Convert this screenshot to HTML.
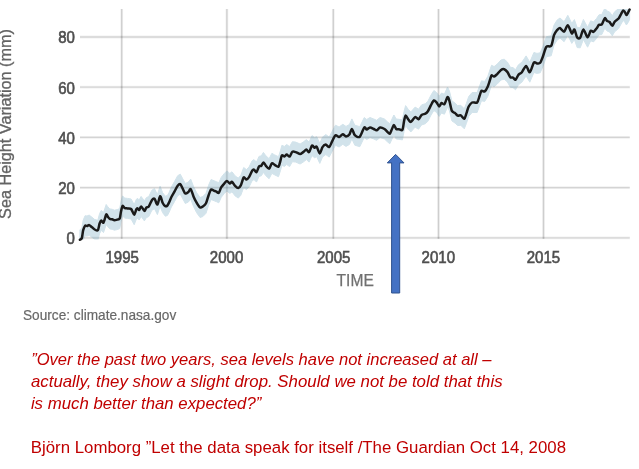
<!DOCTYPE html>
<html lang="en">
<head>
<meta charset="utf-8">
<title>Sea Height Variation</title>
<style>
html,body{margin:0;padding:0;background:#fff;}
body{width:639px;height:469px;overflow:hidden;position:relative;font-family:"Liberation Sans",sans-serif;}
svg{position:absolute;left:0;top:0;display:block;}
text{font-family:"Liberation Sans",sans-serif;}
.tick text{font-size:16px;fill:#4f4f4f;stroke:#4f4f4f;stroke-width:.6px;}
.halo line{stroke:#000;stroke-opacity:.06;stroke-width:2.8;}
.core line{stroke:#000;stroke-opacity:.14;stroke-width:1.3;}
.core line.h{stroke-opacity:.115;}
.quote text{font-size:15.7px;font-style:italic;fill:#c00000;}
.cite text{font-size:16.3px;fill:#c00000;}
</style>
</head>
<body>
<svg width="639" height="469" viewBox="0 0 639 469">
<rect width="639" height="469" fill="#fff"/>
<g class="chart">
<g class="grid halo"><line x1="121.7" y1="9" x2="121.7" y2="238.8"/><line x1="226.9" y1="9" x2="226.9" y2="238.8"/><line x1="333.3" y1="9" x2="333.3" y2="238.8"/><line x1="438.5" y1="9" x2="438.5" y2="238.8"/><line x1="543.5" y1="9" x2="543.5" y2="238.8"/><line class="h" x1="80" y1="237.9" x2="629.8" y2="237.9"/><line class="h" x1="80" y1="187.7" x2="629.8" y2="187.7"/><line class="h" x1="80" y1="137.4" x2="629.8" y2="137.4"/><line class="h" x1="80" y1="87.2" x2="629.8" y2="87.2"/><line class="h" x1="80" y1="37.0" x2="629.8" y2="37.0"/></g>
<g class="grid core"><line x1="121.7" y1="9" x2="121.7" y2="238.8"/><line x1="226.9" y1="9" x2="226.9" y2="238.8"/><line x1="333.3" y1="9" x2="333.3" y2="238.8"/><line x1="438.5" y1="9" x2="438.5" y2="238.8"/><line x1="543.5" y1="9" x2="543.5" y2="238.8"/><line class="h" x1="80" y1="237.9" x2="629.8" y2="237.9"/><line class="h" x1="80" y1="187.7" x2="629.8" y2="187.7"/><line class="h" x1="80" y1="137.4" x2="629.8" y2="137.4"/><line class="h" x1="80" y1="87.2" x2="629.8" y2="87.2"/><line class="h" x1="80" y1="37.0" x2="629.8" y2="37.0"/></g>
<clipPath id="plotclip"><rect x="70" y="9" width="569" height="230.6"/></clipPath>
<path d="M79.9 229.7 L81.8 228.3 L83.2 220.1 L85.1 215.7 L87.0 216.0 L89.2 215.1 L92.0 217.3 L94.7 219.5 L97.8 220.3 L99.6 213.5 L101.3 210.4 L103.5 212.6 L106.2 204.5 L107.9 206.9 L109.8 208.9 L112.2 209.3 L114.4 210.2 L117.2 209.6 L119.7 208.6 L121.0 201.4 L122.6 196.0 L124.8 198.1 L127.6 198.4 L131.1 199.0 L134.2 204.7 L136.3 199.3 L137.7 198.4 L139.2 200.0 L141.1 196.4 L144.4 200.9 L146.3 197.7 L148.8 196.5 L151.9 190.2 L154.5 188.7 L157.4 194.6 L160.1 186.2 L162.6 192.7 L165.3 196.2 L167.4 195.5 L169.0 192.6 L171.4 187.0 L174.6 181.4 L177.7 175.7 L180.3 174.2 L182.8 178.9 L185.3 183.5 L188.4 182.0 L190.7 179.1 L193.5 186.4 L196.6 192.7 L200.1 197.5 L202.9 196.5 L206.0 193.3 L208.6 185.2 L211.1 179.5 L214.2 180.8 L216.5 181.7 L218.8 182.8 L221.3 177.2 L224.4 173.4 L226.9 170.9 L229.8 173.4 L232.0 171.8 L235.1 175.9 L238.3 178.1 L240.8 175.3 L243.7 167.5 L246.4 169.6 L249.0 167.1 L252.1 160.8 L254.0 159.6 L256.5 162.1 L259.0 156.4 L261.3 155.8 L263.4 152.4 L265.9 155.8 L269.1 158.7 L271.9 153.3 L274.7 154.9 L278.5 156.7 L280.4 150.8 L281.9 145.3 L284.4 146.4 L286.7 144.5 L289.6 146.6 L292.4 141.7 L295.7 142.1 L300.1 144.0 L303.2 142.1 L306.4 139.6 L309.1 142.1 L312.0 135.6 L314.5 137.7 L316.7 136.7 L319.8 143.4 L322.5 137.1 L325.8 134.6 L329.2 137.1 L332.1 131.4 L335.5 125.2 L339.1 127.0 L342.8 124.3 L346.0 126.4 L349.4 124.5 L351.9 118.9 L354.8 125.2 L359.8 126.7 L364.2 117.6 L366.7 119.5 L370.0 117.5 L373.8 119.0 L376.6 120.3 L380.1 117.5 L384.5 119.0 L387.4 121.8 L389.8 123.8 L392.0 119.0 L393.9 115.0 L396.2 119.0 L399.0 119.3 L402.4 119.9 L404.0 111.5 L405.6 105.6 L408.4 109.6 L410.9 111.9 L415.1 107.1 L418.5 109.2 L421.6 104.9 L425.4 103.7 L427.9 101.2 L431.0 95.1 L433.9 90.5 L436.7 92.6 L439.2 96.4 L441.5 93.0 L444.4 94.2 L447.5 87.1 L449.4 90.8 L451.9 100.9 L455.1 103.1 L457.6 105.6 L460.8 105.3 L464.3 108.8 L466.4 103.4 L468.7 96.5 L472.1 92.5 L477.1 92.5 L479.6 85.8 L481.5 80.8 L484.7 81.4 L487.8 76.4 L490.3 68.8 L491.6 65.3 L494.1 66.6 L497.2 64.1 L501.0 60.0 L504.2 59.2 L507.3 61.9 L510.4 67.3 L513.0 67.6 L515.5 69.8 L518.2 65.1 L520.0 63.6 L521.9 62.2 L526.1 55.9 L529.8 62.2 L533.9 52.5 L537.0 53.4 L540.2 52.8 L542.9 46.5 L546.4 36.7 L551.2 35.8 L554.0 25.1 L557.1 20.1 L560.0 18.0 L564.1 21.7 L567.8 15.3 L571.8 23.4 L574.4 19.6 L577.2 27.6 L580.2 27.8 L583.4 19.5 L587.6 27.2 L590.7 20.8 L593.5 21.9 L596.5 18.5 L599.0 14.8 L601.8 14.5 L604.8 8.2 L607.1 11.0 L609.6 12.0 L612.3 15.8 L614.6 11.8 L618.6 8.5 L621.1 4.0 L623.1 0.5 L624.8 2.0 L626.4 5.0 L628.1 2.5 L629.6 -0.5 L629.6 19.5 L628.1 22.5 L626.4 25.0 L624.8 22.0 L623.1 20.5 L621.1 24.0 L618.6 28.5 L614.6 31.8 L612.3 35.8 L609.6 32.0 L607.1 31.0 L604.8 28.2 L601.8 34.5 L599.0 34.8 L596.5 38.5 L593.5 41.9 L590.7 40.8 L587.6 47.2 L583.4 39.5 L580.2 47.8 L577.2 47.6 L574.4 39.6 L571.8 43.4 L567.8 35.3 L564.1 41.7 L560.0 38.0 L557.1 40.1 L554.0 45.1 L551.2 55.8 L546.4 56.7 L542.9 66.5 L540.2 72.8 L537.0 73.4 L533.9 72.5 L529.8 82.2 L526.1 75.9 L521.9 82.2 L520.0 83.6 L518.2 85.1 L515.5 89.8 L513.0 87.6 L510.4 87.3 L507.3 81.9 L504.2 79.2 L501.0 80.0 L497.2 84.1 L494.1 86.6 L491.6 85.3 L490.3 88.8 L487.8 96.4 L484.7 101.4 L481.5 100.8 L479.6 105.8 L477.1 112.5 L472.1 112.5 L468.7 116.5 L466.4 123.4 L464.3 128.8 L460.8 125.3 L457.6 125.6 L455.1 123.1 L451.9 120.9 L449.4 110.8 L447.5 107.1 L444.4 114.2 L441.5 113.0 L439.2 116.4 L436.7 112.6 L433.9 110.5 L431.0 115.1 L427.9 121.2 L425.4 123.7 L421.6 124.9 L418.5 129.2 L415.1 127.1 L410.9 131.9 L408.4 129.6 L405.6 125.6 L404.0 131.5 L402.4 139.9 L399.0 139.3 L396.2 139.0 L393.9 135.0 L392.0 139.0 L389.8 143.8 L387.4 141.8 L384.5 139.0 L380.1 137.5 L376.6 140.3 L373.8 139.0 L370.0 137.5 L366.7 139.5 L364.2 137.6 L359.8 146.7 L354.8 145.2 L351.9 138.9 L349.4 144.5 L346.0 146.4 L342.8 144.3 L339.1 147.0 L335.5 145.2 L332.1 151.4 L329.2 157.1 L325.8 154.6 L322.5 157.1 L319.8 163.4 L316.7 156.7 L314.5 157.7 L312.0 155.6 L309.1 162.1 L306.4 159.6 L303.2 162.1 L300.1 164.0 L295.7 162.1 L292.4 161.7 L289.6 166.6 L286.7 164.5 L284.4 166.4 L281.9 165.3 L280.4 170.8 L278.5 176.7 L274.7 174.9 L271.9 173.3 L269.1 178.7 L265.9 175.8 L263.4 172.4 L261.3 175.8 L259.0 176.4 L256.5 182.1 L254.0 179.6 L252.1 180.8 L249.0 187.1 L246.4 189.6 L243.7 187.5 L240.8 195.3 L238.3 198.1 L235.1 195.9 L232.0 191.8 L229.8 193.4 L226.9 190.9 L224.4 193.4 L221.3 197.2 L218.8 202.8 L216.5 201.7 L214.2 200.8 L211.1 199.5 L208.6 205.2 L206.0 213.3 L202.9 216.5 L200.1 217.5 L196.6 212.7 L193.5 206.4 L190.7 199.1 L188.4 202.0 L185.3 203.5 L182.8 198.9 L180.3 194.2 L177.7 195.7 L174.6 201.4 L171.4 207.0 L169.0 212.6 L167.4 215.5 L165.3 216.2 L162.6 212.7 L160.1 206.2 L157.4 214.6 L154.5 208.7 L151.9 210.2 L148.8 216.5 L146.3 217.7 L144.4 220.9 L141.1 216.4 L139.2 220.0 L137.7 218.4 L136.3 219.3 L134.2 224.7 L131.1 219.0 L127.6 218.4 L124.8 218.1 L122.6 216.0 L121.0 221.4 L119.7 228.6 L117.2 229.6 L114.4 230.2 L112.2 229.3 L109.8 228.9 L107.9 226.9 L106.2 224.5 L103.5 232.6 L101.3 230.4 L99.6 233.5 L97.8 240.3 L94.7 239.5 L92.0 237.3 L89.2 235.1 L87.0 236.0 L85.1 235.7 L83.2 240.1 L81.8 248.3 L79.9 249.7Z" fill="#6aa3bd" stroke="#6aa3bd" stroke-width="1" stroke-linejoin="round" opacity=".3" clip-path="url(#plotclip)"/>
<path d="M79.9 239.7 C80.2 239.5 81.3 239.6 81.8 238.3 C82.3 237.0 82.7 231.9 83.2 230.1 C83.7 228.3 84.6 226.3 85.1 225.7 C85.6 225.1 86.4 226.1 87.0 226.0 C87.6 225.9 88.5 224.9 89.2 225.1 C89.9 225.3 91.2 226.7 92.0 227.3 C92.8 227.9 93.9 229.1 94.7 229.5 C95.5 229.9 97.1 231.1 97.8 230.3 C98.5 229.5 99.1 224.9 99.6 223.5 C100.1 222.1 100.8 220.5 101.3 220.4 C101.8 220.3 102.8 223.4 103.5 222.6 C104.2 221.8 105.6 215.3 106.2 214.5 C106.8 213.7 107.4 216.3 107.9 216.9 C108.4 217.5 109.2 218.6 109.8 218.9 C110.4 219.2 111.6 219.1 112.2 219.3 C112.8 219.5 113.7 220.2 114.4 220.2 C115.1 220.2 116.5 219.8 117.2 219.6 C117.9 219.4 119.2 219.7 119.7 218.6 C120.2 217.5 120.6 213.2 121.0 211.4 C121.4 209.6 122.1 206.5 122.6 206.0 C123.1 205.5 124.1 207.8 124.8 208.1 C125.5 208.4 126.7 208.3 127.6 208.4 C128.5 208.5 130.2 208.1 131.1 209.0 C132.0 209.9 133.5 214.7 134.2 214.7 C134.9 214.7 135.8 210.2 136.3 209.3 C136.8 208.4 137.3 208.3 137.7 208.4 C138.1 208.5 138.7 210.3 139.2 210.0 C139.7 209.7 140.4 206.3 141.1 206.4 C141.8 206.5 143.7 210.7 144.4 210.9 C145.1 211.1 145.7 208.3 146.3 207.7 C146.9 207.1 148.0 207.6 148.8 206.5 C149.6 205.4 151.1 201.3 151.9 200.2 C152.7 199.1 153.7 198.1 154.5 198.7 C155.3 199.3 156.6 204.9 157.4 204.6 C158.2 204.2 159.4 196.5 160.1 196.2 C160.8 195.9 161.9 201.3 162.6 202.7 C163.3 204.1 164.6 205.8 165.3 206.2 C166.0 206.6 166.9 206.0 167.4 205.5 C167.9 205.0 168.4 203.8 169.0 202.6 C169.6 201.4 170.6 198.6 171.4 197.0 C172.2 195.4 173.7 193.0 174.6 191.4 C175.5 189.8 176.9 186.7 177.7 185.7 C178.5 184.7 179.6 183.8 180.3 184.2 C181.0 184.6 182.1 187.6 182.8 188.9 C183.5 190.2 184.5 193.1 185.3 193.5 C186.1 193.9 187.6 192.6 188.4 192.0 C189.2 191.4 190.0 188.5 190.7 189.1 C191.4 189.7 192.7 194.5 193.5 196.4 C194.3 198.3 195.7 201.1 196.6 202.7 C197.5 204.3 199.2 207.0 200.1 207.5 C201.0 208.0 202.1 207.1 202.9 206.5 C203.7 205.9 205.2 204.9 206.0 203.3 C206.8 201.7 207.9 197.1 208.6 195.2 C209.3 193.3 210.3 190.1 211.1 189.5 C211.9 188.9 213.4 190.5 214.2 190.8 C215.0 191.1 215.9 191.4 216.5 191.7 C217.1 192.0 218.1 193.4 218.8 192.8 C219.5 192.2 220.5 188.5 221.3 187.2 C222.1 185.9 223.6 184.3 224.4 183.4 C225.2 182.5 226.1 180.9 226.9 180.9 C227.7 180.9 229.1 183.3 229.8 183.4 C230.5 183.5 231.3 181.5 232.0 181.8 C232.7 182.2 234.2 185.0 235.1 185.9 C236.0 186.8 237.5 188.2 238.3 188.1 C239.1 188.0 240.0 186.8 240.8 185.3 C241.6 183.8 242.9 178.3 243.7 177.5 C244.5 176.7 245.7 179.7 246.4 179.6 C247.1 179.5 248.2 178.3 249.0 177.1 C249.8 175.9 251.4 171.9 252.1 170.8 C252.8 169.8 253.4 169.4 254.0 169.6 C254.6 169.8 255.8 172.5 256.5 172.1 C257.2 171.7 258.3 167.3 259.0 166.4 C259.7 165.5 260.7 166.4 261.3 165.8 C261.9 165.2 262.8 162.4 263.4 162.4 C264.0 162.4 265.1 164.9 265.9 165.8 C266.7 166.7 268.3 169.0 269.1 168.7 C269.9 168.3 271.1 163.8 271.9 163.3 C272.7 162.8 273.8 164.4 274.7 164.9 C275.6 165.4 277.7 167.3 278.5 166.7 C279.3 166.1 279.9 162.4 280.4 160.8 C280.9 159.2 281.3 155.9 281.9 155.3 C282.5 154.7 283.7 156.5 284.4 156.4 C285.1 156.3 286.0 154.5 286.7 154.5 C287.4 154.5 288.8 157.0 289.6 156.6 C290.4 156.2 291.5 152.3 292.4 151.7 C293.3 151.1 294.6 151.8 295.7 152.1 C296.8 152.4 299.1 154.0 300.1 154.0 C301.2 154.0 302.3 152.7 303.2 152.1 C304.1 151.5 305.6 149.6 306.4 149.6 C307.2 149.6 308.3 152.7 309.1 152.1 C309.9 151.5 311.2 146.2 312.0 145.6 C312.8 145.0 313.8 147.5 314.5 147.7 C315.2 147.9 316.0 145.9 316.7 146.7 C317.4 147.5 319.0 153.3 319.8 153.4 C320.6 153.5 321.7 148.3 322.5 147.1 C323.3 145.9 324.9 144.6 325.8 144.6 C326.7 144.6 328.3 147.5 329.2 147.1 C330.1 146.7 331.2 143.1 332.1 141.4 C333.0 139.7 334.5 135.8 335.5 135.2 C336.5 134.6 338.1 137.1 339.1 137.0 C340.1 136.9 341.8 134.4 342.8 134.3 C343.8 134.2 345.1 136.4 346.0 136.4 C346.9 136.4 348.6 135.6 349.4 134.5 C350.2 133.4 351.1 128.8 351.9 128.9 C352.7 129.0 353.7 134.1 354.8 135.2 C355.9 136.3 358.5 137.8 359.8 136.7 C361.1 135.6 363.2 128.6 364.2 127.6 C365.2 126.6 365.9 129.5 366.7 129.5 C367.5 129.5 369.0 127.6 370.0 127.5 C371.0 127.4 372.9 128.6 373.8 129.0 C374.7 129.4 375.7 130.5 376.6 130.3 C377.5 130.1 379.0 127.7 380.1 127.5 C381.2 127.3 383.5 128.4 384.5 129.0 C385.5 129.6 386.7 131.1 387.4 131.8 C388.1 132.5 389.2 134.2 389.8 133.8 C390.4 133.4 391.4 130.2 392.0 129.0 C392.6 127.8 393.3 125.0 393.9 125.0 C394.5 125.0 395.5 128.4 396.2 129.0 C396.9 129.6 398.1 129.2 399.0 129.3 C399.9 129.4 401.7 131.0 402.4 129.9 C403.1 128.8 403.6 123.5 404.0 121.5 C404.4 119.5 405.0 115.9 405.6 115.6 C406.2 115.3 407.7 118.7 408.4 119.6 C409.1 120.5 410.0 122.2 410.9 121.9 C411.8 121.6 414.0 117.5 415.1 117.1 C416.2 116.7 417.6 119.5 418.5 119.2 C419.4 118.9 420.6 115.7 421.6 114.9 C422.6 114.1 424.5 114.2 425.4 113.7 C426.3 113.2 427.1 112.4 427.9 111.2 C428.7 110.0 430.2 106.6 431.0 105.1 C431.8 103.6 433.1 100.8 433.9 100.5 C434.7 100.2 436.0 101.8 436.7 102.6 C437.4 103.4 438.5 106.3 439.2 106.4 C439.9 106.5 440.8 103.3 441.5 103.0 C442.2 102.7 443.6 105.0 444.4 104.2 C445.2 103.4 446.8 97.6 447.5 97.1 C448.2 96.6 448.8 98.9 449.4 100.8 C450.0 102.7 451.1 109.2 451.9 110.9 C452.7 112.6 454.3 112.4 455.1 113.1 C455.9 113.8 456.8 115.3 457.6 115.6 C458.4 115.9 459.9 114.9 460.8 115.3 C461.7 115.7 463.5 119.1 464.3 118.8 C465.1 118.5 465.8 115.1 466.4 113.4 C467.0 111.7 467.9 108.0 468.7 106.5 C469.5 105.0 470.9 103.1 472.1 102.5 C473.3 101.9 476.1 103.4 477.1 102.5 C478.2 101.6 479.0 97.4 479.6 95.8 C480.2 94.2 480.8 91.4 481.5 90.8 C482.2 90.2 483.8 92.0 484.7 91.4 C485.6 90.8 487.0 88.2 487.8 86.4 C488.6 84.6 489.8 80.4 490.3 78.8 C490.8 77.2 491.1 75.6 491.6 75.3 C492.1 75.0 493.3 76.8 494.1 76.6 C494.9 76.4 496.2 75.0 497.2 74.1 C498.2 73.2 500.0 70.7 501.0 70.0 C502.0 69.3 503.3 68.9 504.2 69.2 C505.1 69.5 506.4 70.8 507.3 71.9 C508.2 73.0 509.6 76.5 510.4 77.3 C511.2 78.1 512.3 77.2 513.0 77.6 C513.7 77.9 514.8 80.1 515.5 79.8 C516.2 79.5 517.6 76.0 518.2 75.1 C518.8 74.2 519.5 74.0 520.0 73.6 C520.5 73.2 521.0 73.3 521.9 72.2 C522.8 71.1 525.0 65.9 526.1 65.9 C527.2 65.9 528.7 72.7 529.8 72.2 C530.9 71.7 532.9 63.7 533.9 62.5 C534.9 61.3 536.1 63.4 537.0 63.4 C537.9 63.4 539.4 63.8 540.2 62.8 C541.0 61.8 542.0 58.8 542.9 56.5 C543.8 54.2 545.2 48.2 546.4 46.7 C547.6 45.2 550.1 47.4 551.2 45.8 C552.3 44.2 553.2 37.3 554.0 35.1 C554.8 32.9 556.3 31.1 557.1 30.1 C557.9 29.1 559.0 27.8 560.0 28.0 C561.0 28.2 563.0 32.1 564.1 31.7 C565.2 31.3 566.7 25.1 567.8 25.3 C568.9 25.5 570.9 32.8 571.8 33.4 C572.7 34.0 573.6 29.0 574.4 29.6 C575.2 30.2 576.4 36.5 577.2 37.6 C578.0 38.7 579.3 38.9 580.2 37.8 C581.1 36.7 582.4 29.6 583.4 29.5 C584.4 29.4 586.6 37.0 587.6 37.2 C588.6 37.4 589.9 31.5 590.7 30.8 C591.5 30.1 592.7 32.2 593.5 31.9 C594.3 31.6 595.7 29.5 596.5 28.5 C597.3 27.5 598.3 25.4 599.0 24.8 C599.7 24.2 601.0 25.4 601.8 24.5 C602.6 23.6 604.1 18.7 604.8 18.2 C605.5 17.7 606.4 20.5 607.1 21.0 C607.8 21.5 608.9 21.3 609.6 22.0 C610.3 22.7 611.6 25.8 612.3 25.8 C613.0 25.8 613.7 22.8 614.6 21.8 C615.5 20.8 617.7 19.6 618.6 18.5 C619.5 17.4 620.5 15.1 621.1 14.0 C621.7 12.9 622.6 10.8 623.1 10.5 C623.6 10.2 624.3 11.4 624.8 12.0 C625.3 12.6 625.9 14.9 626.4 15.0 C626.9 15.1 627.7 13.3 628.1 12.5 C628.5 11.7 629.4 9.9 629.6 9.5" fill="none" stroke="#1a1a1a" stroke-width="2.5" stroke-linejoin="round" stroke-linecap="round"/>
<g class="tick"><text x="66.51" y="244.3" textLength="8.34" lengthAdjust="spacingAndGlyphs">0</text><text x="58.17" y="194.1" textLength="16.68" lengthAdjust="spacingAndGlyphs">20</text><text x="58.17" y="143.8" textLength="16.68" lengthAdjust="spacingAndGlyphs">40</text><text x="58.17" y="93.6" textLength="16.68" lengthAdjust="spacingAndGlyphs">60</text><text x="58.17" y="43.4" textLength="16.68" lengthAdjust="spacingAndGlyphs">80</text><text x="105.52" y="262.7" textLength="33.36" lengthAdjust="spacingAndGlyphs">1995</text><text x="209.87" y="262.7" textLength="33.36" lengthAdjust="spacingAndGlyphs">2000</text><text x="317.02" y="262.7" textLength="33.36" lengthAdjust="spacingAndGlyphs">2005</text><text x="421.62" y="262.7" textLength="33.36" lengthAdjust="spacingAndGlyphs">2010</text><text x="526.72" y="262.7" textLength="33.36" lengthAdjust="spacingAndGlyphs">2015</text></g>
<text transform="translate(11.1,218.9) rotate(-90)" font-size="16.4" fill="#636363" stroke="#636363" stroke-width=".3" textLength="189.8" lengthAdjust="spacingAndGlyphs">Sea Height Variation (mm)</text>
<text x="336.6" y="285.5" font-size="15.6" fill="#707070" stroke="#707070" stroke-width=".25" textLength="37.2" lengthAdjust="spacingAndGlyphs">TIME</text>
<text x="23" y="319.8" font-size="14.8" fill="#686868" stroke="#686868" stroke-width=".2" textLength="153.2" lengthAdjust="spacingAndGlyphs">Source: climate.nasa.gov</text>
</g>
<polygon points="395.6,154.4 404,162.9 399.7,162.9 399.7,293 391.6,293 391.6,162.9 387.3,162.9" fill="#4472c4" stroke="#2f528f" stroke-width="1" stroke-linejoin="miter"/>
<g class="quote">
<text x="31.2" y="364.9" textLength="460.3" lengthAdjust="spacingAndGlyphs">”Over the past two years, sea levels have not increased at all –</text>
<text x="31" y="386.7" textLength="471.6" lengthAdjust="spacingAndGlyphs">actually, they show a slight drop. Should we not be told that this</text>
<text x="30.9" y="409.1" textLength="230.5" lengthAdjust="spacingAndGlyphs">is much better than expected?”</text>
</g>
<g class="cite">
<text x="30.8" y="453.1" textLength="535.2" lengthAdjust="spacingAndGlyphs">Björn Lomborg ”Let the data speak for itself /The Guardian Oct 14, 2008</text>
</g>
</svg>
</body>
</html>
